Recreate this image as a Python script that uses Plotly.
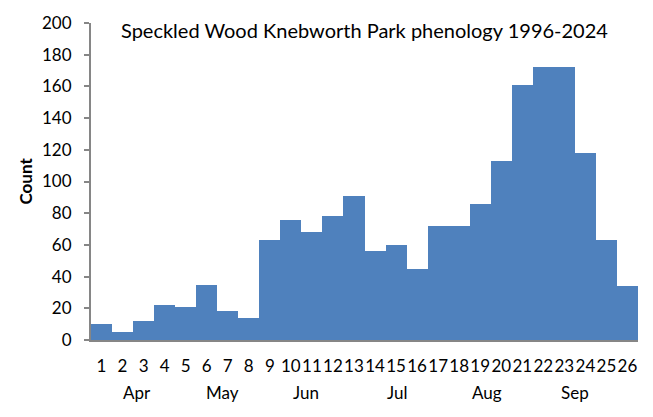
import plotly.graph_objects as go

weeks = list(range(1, 27))
week_labels = [str(w) for w in weeks]
counts = [10, 5, 12, 22, 21, 35, 18, 14, 63, 76, 68, 78, 91, 56, 60, 45,
          72, 72, 86, 113, 161, 172, 172, 118, 63, 34]
months = ["Apr", "May", "Jun", "Jul", "Aug", "Sep"]
month_pos = [2.69, 6.77, 10.7, 15.04, 19.3, 23.5]

FONT = "Lato"
GRAY = "#868686"

fig = go.Figure(go.Bar(x=weeks, y=counts, marker=dict(color="#4F81BD", line=dict(width=0)),
                       width=1.0))

fig.update_layout(
    width=653, height=417,
    margin=dict(l=91, r=15, t=19, b=77),
    paper_bgcolor="white", plot_bgcolor="white",
    bargap=0, showlegend=False,
    font=dict(family=FONT, size=17, color="black"),
)
fig.update_xaxes(
    range=[0.5, 26.5], tickmode="array", tickvals=weeks, ticktext=week_labels,
    tickangle=0,
    showline=True, linecolor=GRAY, linewidth=2, ticks="", showgrid=False,
    zeroline=False, ticklabelstandoff=10, tickfont=dict(family=FONT, size=17),
)
fig.update_yaxes(
    range=[0, 200], dtick=20, showline=True, linecolor=GRAY, linewidth=2,
    ticks="outside", ticklen=5, tickcolor=GRAY, tickwidth=2, showgrid=False,
    zeroline=False, ticklabelstandoff=9, tickfont=dict(family=FONT, size=17),
)

for m, p in zip(months, month_pos):
    fig.add_annotation(x=p, xref="x", y=(340 - 393) / 321, yref="paper",
                       text=m, showarrow=False, yanchor="middle", xanchor="center",
                       font=dict(family=FONT, size=17))

fig.add_annotation(x=(25 - 91) / 547, xref="paper", y=0.5, yref="paper",
                   text="<b>Count</b>", textangle=-90, showarrow=False,
                   xanchor="center", yanchor="middle", font=dict(family=FONT, size=17))

fig.add_annotation(x=0.5, xref="paper", y=(340 - 26) / 321, yref="paper",
                   text="Speckled Wood Knebworth Park phenology 1996-2024",
                   showarrow=False, xanchor="center", yanchor="middle",
                   font=dict(family=FONT, size=20))

fig.write_html("out.html", config={"displayModeBar": False},
               post_script="document.body.style.margin='0';")
